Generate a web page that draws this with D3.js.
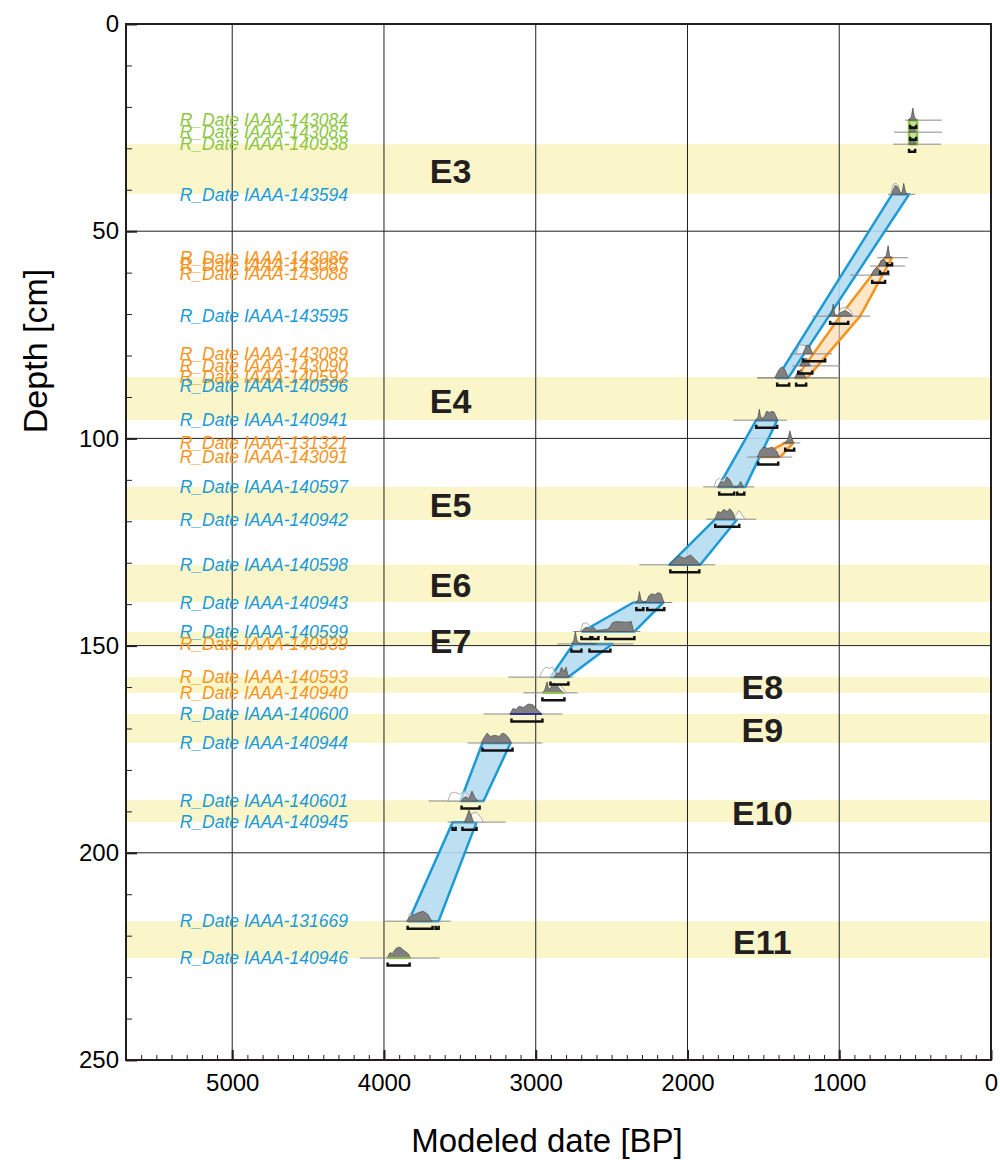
<!DOCTYPE html>
<html>
<head>
<meta charset="utf-8">
<script src="https://cdn.jsdelivr.net/npm/d3@7"></script>
<style>
  body { margin: 0; background: #fff; }
  text { font-family: "Liberation Sans", Arial, sans-serif; }
</style>
</head>
<body>
<script>
// ---- data ----
// event layers (depth in cm)
const bandNames = ["E3", "E4", "E5", "E6", "E7", "E8", "E9", "E10", "E11"];
const bandTop = [29.0, 85.2, 111.7, 130.5, 146.7, 157.6, 166.5, 187.3, 216.5];
const bandBottom = [41.0, 95.6, 119.7, 139.5, 149.9, 161.4, 173.5, 192.6, 225.4];
const bandLabelDate = [3561, 3561, 3561, 3561, 3561, 1507, 1507, 1507, 1507];

// samples
const sampleIds = ["143084", "143085", "140938", "143594", "143086", "143087", "143088", "143595",
  "143089", "143090", "140592", "140596", "140941", "131321", "143091", "140597", "140942",
  "140598", "140943", "140599", "140939", "140593", "140940", "140600", "140944", "140601",
  "140945", "131669", "140946"];
const sampleGroup = ["green", "green", "green", "blue", "orange", "orange", "orange", "blue",
  "orange", "orange", "orange", "blue", "blue", "orange", "orange", "blue", "blue",
  "blue", "blue", "blue", "orange", "orange", "orange", "blue", "blue", "blue",
  "blue", "blue", "blue"];
const sampleDepth = [23.2, 26.1, 29.0, 41.1, 56.4, 58.4, 60.6, 70.5, 79.6, 82.5, 85.4, 85.4,
  95.6, 101.1, 104.5, 111.7, 119.5, 130.5, 139.6, 146.6, 149.6, 157.6, 161.4, 166.5, 173.5,
  187.5, 192.6, 216.5, 225.4];
const labelDepth = [23.2, 26.1, 29.0, 41.1, 56.4, 58.2, 60.2, 70.5, 79.6, 82.5, 85.1, 87.4,
  95.6, 101.1, 104.5, 111.7, 119.5, 130.5, 139.6, 146.6, 149.6, 157.6, 161.4, 166.5, 173.5,
  187.5, 192.6, 216.5, 225.4];

// calibrated date range lines [from, to] BP
const lineRanges = [[566, 323], [639, 323], [645, 329], [678, 500], [750, 546], [797, 566],
  [928, 665], [1178, 797], [1323, 1047], [1310, 994], [1540, 1007], [1540, 1007], [1698, 1343],
  [1376, 1257], [1606, 1310], [1896, 1560], [1876, 1547], [2317, 1817], [2363, 2100],
  [2752, 2311], [2857, 2357], [3180, 2752], [3081, 2725], [3344, 2824], [3449, 2956],
  [3706, 3344], [3581, 3199], [4002, 3561], [4160, 3634]];

// modelled distributions [date, relative probability]
const posteriors = [
  [[545, 0], [525, 0.3], [515, 1.1], [505, 0.3], [490, 0]],
  [[540, 0], [522, 0.5], [508, 0.5], [495, 0]],
  [[540, 0], [522, 0.5], [508, 0.5], [495, 0]],
  [[655, 0], [645, 0.4], [632, 0.8], [620, 0.75], [606, 0.4], [596, 0.1], [586, 0.2], [575, 1.0], [565, 0.3], [555, 0]],
  [[705, 0], [690, 0.2], [678, 1.1], [668, 0.2], [655, 0]],
  [[740, 0], [725, 0.5], [705, 0.6], [685, 0.2], [675, 0]],
  [[790, 0], [775, 0.4], [755, 0.7], [735, 0.5], [715, 0]],
  [[1070, 0], [1050, 0.2], [1040, 1.1], [1030, 0.2], [1010, 0.05], [990, 0.35], [960, 0.5], [935, 0.3], [915, 0]],
  [[1240, 0], [1215, 0.8], [1195, 0.7], [1175, 0]],
  [[1260, 0], [1240, 0.6], [1215, 0.7], [1190, 0]],
  [[1295, 0], [1275, 0.5], [1255, 0.75], [1230, 0.3], [1220, 0]],
  [[1425, 0], [1400, 0.7], [1380, 1.0], [1360, 0.8], [1335, 0]],
  [[1550, 0], [1535, 0.3], [1527, 1.0], [1518, 0.3], [1505, 0.2], [1490, 0.4], [1480, 0.8], [1460, 0.7], [1445, 0.8], [1430, 0.75], [1415, 0.3], [1405, 0]],
  [[1360, 0], [1340, 0.3], [1325, 1.1], [1312, 0.4], [1300, 0]],
  [[1540, 0], [1520, 0.6], [1500, 0.9], [1470, 0.8], [1440, 0.9], [1410, 0.5], [1395, 0]],
  [[1800, 0], [1780, 0.5], [1760, 0.4], [1740, 0.9], [1720, 0.6], [1700, 0], [1670, 0], [1650, 0.5], [1630, 0]],
  [[1820, 0], [1800, 0.7], [1780, 0.6], [1760, 0.9], [1740, 0.7], [1720, 0.95], [1700, 0.6], [1685, 0]],
  [[2120, 0], [2090, 0.4], [2060, 0.8], [2020, 0.6], [1980, 0.9], [1950, 0.5], [1915, 0]],
  [[2340, 0], [2325, 0.3], [2317, 1.0], [2305, 0.2], [2290, 0.1], [2270, 0.1], [2255, 0.6], [2235, 0.8], [2215, 0.7], [2195, 0.9], [2175, 0.8], [2155, 0]],
  [[2700, 0], [2680, 0.3], [2660, 0.4], [2640, 0.2], [2620, 0.4], [2600, 0.1], [2560, 0.15], [2530, 0.2], [2510, 0.4], [2495, 0.8], [2470, 0.9], [2400, 0.85], [2370, 0.9], [2355, 0]],
  [[2765, 0], [2750, 0.3], [2739, 1.1], [2728, 0.3], [2710, 0.05], [2650, 0.05], [2600, 0]],
  [[2880, 0], [2860, 0.4], [2845, 0.3], [2830, 0.9], [2815, 0.5], [2800, 0.9], [2790, 0.3], [2780, 0]],
  [[2955, 0], [2940, 0.3], [2925, 1.0], [2915, 0.3], [2900, 0.5], [2880, 0.9], [2860, 0.7], [2840, 0.3], [2815, 0]],
  [[3170, 0], [3150, 0.5], [3130, 0.4], [3110, 0.7], [3080, 0.6], [3050, 0.9], [3020, 0.85], [2990, 0.4], [2960, 0]],
  [[3360, 0], [3340, 0.5], [3320, 0.9], [3300, 0.6], [3270, 0.7], [3240, 0.6], [3220, 0.9], [3200, 0.8], [3175, 0.4], [3160, 0]],
  [[3490, 0], [3475, 0.3], [3460, 0.4], [3440, 0.2], [3420, 0.9], [3400, 0.3], [3380, 0]],
  [[3470, 0], [3455, 0.5], [3440, 1.1], [3425, 0.6], [3410, 0]],
  [[3850, 0], [3830, 0.4], [3800, 0.6], [3770, 0.8], [3740, 0.9], [3710, 0.6], [3685, 0]],
  [[3980, 0], [3960, 0.5], [3945, 0.4], [3920, 0.9], [3895, 1.0], [3870, 0.7], [3840, 0.4], [3825, 0]]
];

// unmodelled (prior) distributions, only where visible
const priors = [
  null, null, null,
  [[660, 0], [645, 0.9], [625, 1.0], [610, 0.8], [598, 0]],
  null, null, null,
  [[1010, 0], [990, 0.7], [960, 0.8], [930, 0.6], [910, 0]],
  [[1285, 0], [1265, 0.8], [1240, 0.8], [1215, 0.7], [1180, 0]],
  [[1270, 0], [1255, 0.3], [1245, 0.1], [1235, 0.3], [1225, 0.1], [1215, 0.3], [1200, 0]],
  null, null, null, null, null,
  [[1825, 0], [1810, 0.6], [1790, 0.8], [1770, 0.6], [1750, 0.9], [1730, 0.8], [1710, 0.4], [1690, 0]],
  [[1700, 0], [1680, 0.4], [1660, 0.8], [1640, 0.4], [1620, 0]],
  null, null,
  [[2705, 0], [2690, 0.7], [2670, 0.8], [2650, 0.6], [2635, 0]],
  null,
  [[2975, 0], [2955, 0.6], [2935, 0.9], [2910, 0.8], [2890, 0.9], [2870, 0.4], [2855, 0]],
  [[2880, 0], [2860, 0.8], [2830, 0.6], [2800, 0]],
  null, null,
  [[3580, 0], [3560, 0.7], [3530, 0.8], [3500, 0.6], [3470, 0.9], [3440, 0.4], [3420, 0]],
  [[3440, 0], [3420, 0.8], [3390, 0.9], [3360, 0.4], [3345, 0]],
  [[3845, 0], [3830, 0.7], [3810, 0.5], [3790, 0.3], [3770, 0]],
  null
];

// 95.4% ranges [from, to]
const ranges95 = [[[533, 493]], [[533, 493]], [[540, 500]], [], [[685, 652]], [[731, 678]],
  [[783, 698]], [[1060, 941]], [[1238, 1093]], [[1270, 1178]], [[1284, 1218]], [[1409, 1330]],
  [[1547, 1409]], [[1356, 1297]], [[1534, 1402]], [[1791, 1692], [1672, 1626]], [[1817, 1659]],
  [[2113, 1922]], [[2337, 2291], [2265, 2153]], [[2699, 2640], [2627, 2587], [2541, 2350]],
  [[2765, 2699], [2646, 2508]], [[2903, 2785]], [[2956, 2811]], [[3160, 2956]], [[3351, 3153]],
  [[3489, 3370]], [[3548, 3528], [3483, 3390]], [[3844, 3680], [3660, 3640]], [[3976, 3831]]];

// short coloured base lines under some distributions
const baseLineIndex = [22, 23, 28];
const baseLineColor = ["#8dc63f", "#2e3192", "#8dc63f"];

// sequence envelopes [date, depth]
const blueEnvelopes = [
  [[652, 41.1], [540, 41.1], [1336, 85.4], [1409, 85.4]],
  [[1547, 95.6], [1409, 95.6], [1619, 111.7], [1797, 111.7]],
  [[1817, 119.5], [1672, 119.5], [1916, 130.5], [2120, 130.5]],
  [[2357, 139.6], [2159, 139.6], [2350, 146.6], [2692, 146.6]],
  [[2752, 149.6], [2495, 149.6], [2785, 157.6], [2903, 157.6]],
  [[3351, 173.5], [3166, 173.5], [3344, 187.5], [3496, 187.5]],
  [[3548, 192.6], [3390, 192.6], [3640, 216.5], [3838, 216.5]]
];
const orangeEnvelopes = [
  [[698, 56.4], [652, 56.4], [862, 70.5], [1211, 85.4], [1284, 85.4], [994, 70.5]],
  [[1356, 101.1], [1303, 101.1], [1389, 104.5], [1534, 104.5]]
];
const greenEnvelopes = [
  [[540, 23.2], [487, 23.2], [487, 29.0], [540, 29.0]]
];

const xTicks = [0, 1000, 2000, 3000, 4000, 5000];
const yTicks = [0, 50, 100, 150, 200, 250];

// ---- drawing ----
const colors = { blue: "#1b9ad6", orange: "#f7941d", green: "#8dc63f" };

const svg = d3.select("body").append("svg")
  .attr("width", 1000)
  .attr("height", 1160);

const x = d3.scaleLinear().domain([5700, 0]).range([126, 991]);
const y = d3.scaleLinear().domain([0, 250]).range([24, 1060]);
const hScale = d3.scaleLinear().domain([0, 1]).range([0, 11]);

// event bands
svg.append("g").selectAll("rect")
  .data(bandNames)
  .enter().append("rect")
  .attr("x", x(5700))
  .attr("width", x(0) - x(5700))
  .attr("y", (d, i) => y(bandTop[i]))
  .attr("height", (d, i) => y(bandBottom[i]) - y(bandTop[i]))
  .style("fill", "#faf6c9");

// grid
const grid = svg.append("g").style("stroke", "#231f20").style("stroke-width", 1);
grid.selectAll(".vgrid")
  .data(xTicks.filter(d => d > 0))
  .enter().append("line")
  .attr("x1", d => x(d)).attr("x2", d => x(d))
  .attr("y1", y(0)).attr("y2", y(250));
grid.selectAll(".hgrid")
  .data(yTicks.filter(d => d > 0 && d < 250))
  .enter().append("line")
  .attr("x1", x(5700)).attr("x2", x(0))
  .attr("y1", d => y(d)).attr("y2", d => y(d));

// envelopes
const poly = d3.line().x(d => x(d[0])).y(d => y(d[1]));
function drawEnvelopes(list, fill, stroke, opacity) {
  svg.append("g").selectAll("path")
    .data(list)
    .enter().append("path")
    .attr("d", d => poly(d) + "Z")
    .style("fill", fill)
    .style("fill-opacity", opacity)
    .style("stroke", stroke)
    .style("stroke-width", 2.5)
    .style("stroke-linejoin", "round");
}
drawEnvelopes(blueEnvelopes, "#b6dcf1", colors.blue, 0.9);
drawEnvelopes(orangeEnvelopes, "#fbd5a5", colors.orange, 0.6);
drawEnvelopes(greenEnvelopes, "#b5dc80", colors.green, 0.8);

// range lines
svg.append("g").selectAll("line")
  .data(lineRanges)
  .enter().append("line")
  .attr("x1", d => x(d[0])).attr("x2", d => x(d[1]))
  .attr("y1", (d, i) => y(sampleDepth[i])).attr("y2", (d, i) => y(sampleDepth[i]))
  .style("stroke", "#8a8a8a")
  .style("stroke-width", 1);

// distributions
function humpPath(points, depth) {
  return d3.line()
    .x(d => x(d[0]))
    .y(d => y(depth) - hScale(d[1]))(points) + "Z";
}
const dists = svg.append("g");
priors.forEach(function (p, i) {
  if (!p) return;
  dists.append("path")
    .attr("d", humpPath(p, sampleDepth[i]))
    .style("fill", "#ffffff")
    .style("fill-opacity", 0.6)
    .style("stroke", "#9a9a9a")
    .style("stroke-width", 0.8);
});
posteriors.forEach(function (p, i) {
  dists.append("path")
    .attr("d", humpPath(p, sampleDepth[i]))
    .style("fill", "#808080")
    .style("stroke", "#3a3a3a")
    .style("stroke-width", 0.6);
});

// coloured base lines
baseLineIndex.forEach(function (idx, k) {
  const p = posteriors[idx];
  svg.append("line")
    .attr("x1", x(p[0][0])).attr("x2", x(p[p.length - 1][0]))
    .attr("y1", y(sampleDepth[idx])).attr("y2", y(sampleDepth[idx]))
    .style("stroke", baseLineColor[k])
    .style("stroke-width", 1.8);
});

// 95% range brackets
const brk = svg.append("g")
  .style("fill", "none")
  .style("stroke", "#111")
  .style("stroke-width", 2.5);
ranges95.forEach(function (list, i) {
  const yy = y(sampleDepth[i]) + 7.5;
  list.forEach(function (r) {
    brk.append("path")
      .attr("d", "M" + x(r[0]) + "," + (yy - 3) + "V" + yy + "H" + x(r[1]) + "V" + (yy - 3));
  });
});

// sample labels
svg.append("g").selectAll("text")
  .data(sampleIds)
  .enter().append("text")
  .attr("x", 348)
  .attr("y", (d, i) => y(labelDepth[i]) + 6.3)
  .attr("text-anchor", "end")
  .style("font-size", "17.5px")
  .style("font-style", "italic")
  .style("fill", (d, i) => colors[sampleGroup[i]])
  .text(d => "R_Date IAAA-" + d);

// event labels
svg.append("g").selectAll("text")
  .data(bandNames)
  .enter().append("text")
  .attr("x", (d, i) => x(bandLabelDate[i]))
  .attr("y", (d, i) => y((bandTop[i] + bandBottom[i]) / 2) + 14)
  .attr("text-anchor", "middle")
  .style("font-size", "34px")
  .style("font-weight", "bold")
  .style("fill", "#231f20")
  .text(d => d);

// axes
const xMinor = svg.append("g")
  .attr("transform", "translate(0," + y(250) + ")")
  .call(d3.axisBottom(x).tickValues(d3.range(0, 5701, 100)).tickSize(-5).tickFormat(""));
xMinor.select(".domain").remove();
const yMinor = svg.append("g")
  .attr("transform", "translate(" + x(5700) + ",0)")
  .call(d3.axisLeft(y).tickValues(d3.range(0, 251, 10)).tickSize(-6).tickFormat(""));
yMinor.select(".domain").remove();

const xAxis = svg.append("g")
  .attr("transform", "translate(0," + y(250) + ")")
  .call(d3.axisBottom(x).tickValues(xTicks).tickSize(-10).tickPadding(14).tickFormat(d3.format("d")));
const yAxis = svg.append("g")
  .attr("transform", "translate(" + x(5700) + ",0)")
  .call(d3.axisLeft(y).tickValues(yTicks).tickSize(-11).tickPadding(7));

[xAxis, yAxis].forEach(function (g) {
  g.select(".domain").remove();
  g.selectAll(".tick line").style("stroke", "#231f20").style("stroke-width", 2);
  g.selectAll(".tick text")
    .style("font-family", "'Liberation Sans', Arial, sans-serif")
    .style("font-size", "24px")
    .style("fill", "#000");
});
[xMinor, yMinor].forEach(function (g) {
  g.selectAll(".tick line").style("stroke", "#231f20").style("stroke-width", 1);
});

// frame
svg.append("rect")
  .attr("x", x(5700))
  .attr("y", y(0))
  .attr("width", x(0) - x(5700))
  .attr("height", y(250) - y(0))
  .style("fill", "none")
  .style("stroke", "#231f20")
  .style("stroke-width", 2);

// axis titles
svg.append("text")
  .attr("x", 547)
  .attr("y", 1152)
  .attr("text-anchor", "middle")
  .style("font-size", "33px")
  .style("fill", "#000")
  .text("Modeled date [BP]");

svg.append("text")
  .attr("transform", "translate(47,351) rotate(-90)")
  .attr("text-anchor", "middle")
  .style("font-size", "34px")
  .style("fill", "#000")
  .text("Depth [cm]");
</script>
</body>
</html>
